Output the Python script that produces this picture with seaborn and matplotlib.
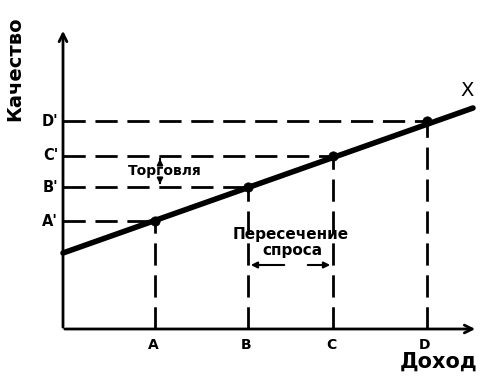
import matplotlib
matplotlib.use("Agg")
import matplotlib.pyplot as plt
import seaborn as sns
import pandas as pd

# data (units roughly pixel-based, origin at axes corner)
income_labels = ["A", "B", "C", "D"]
quality_labels = ["A'", "B'", "C'", "D'"]
income = [92, 185, 270, 364]
quality = [108, 142, 173, 208]
line_x = [0, 410]
line_y = [76, 221]

sns.set_theme(style="white")
plt.rcParams['font.family'] = ['DejaVu Sans']
plt.rcParams['text.color'] = 'black'

fig = plt.figure(figsize=(4.88, 3.83), dpi=100)
ax = fig.add_axes([0, 0, 1, 1])
ax.set_xlim(-63, 425)
ax.set_ylim(-54, 329)
ax.axis("off")

# axes with arrows
ax.annotate("", xy=(0, 301), xytext=(0, -1), arrowprops=dict(arrowstyle="->", lw=2, color="black", mutation_scale=14))
ax.annotate("", xy=(415, 0), xytext=(-1, 0), arrowprops=dict(arrowstyle="->", lw=2, color="black", mutation_scale=14))

dash = (8, 3.5)
for xi, yi in zip(income, quality):
    ax.plot([0, xi], [yi, yi], color="black", lw=2, dashes=dash, dash_capstyle="butt")
    ax.plot([xi, xi], [0, yi], color="black", lw=2, dashes=dash, dash_capstyle="butt")

df_line = pd.DataFrame({"x": line_x, "y": line_y})
sns.lineplot(data=df_line, x="x", y="y", ax=ax, color="black", lw=4, legend=False)
df_pts = pd.DataFrame({"x": income, "y": quality})
sns.scatterplot(data=df_pts, x="x", y="y", ax=ax, color="black", s=45, edgecolor="black", legend=False, zorder=5)

for xi, lab in zip(income, income_labels):
    ax.text(xi - 2, -16, lab, ha="center", va="center", fontsize=10, fontweight="bold", color="black")
for yi, lab in zip(quality, quality_labels):
    ax.text(-5, yi, lab, ha="right", va="center", fontsize=10.5, fontweight="bold", color="black")

ax.text(404, 239, "X", ha="center", va="center", fontsize=14, color="black")
ax.text(376, -33, "Доход", ha="center", va="center", fontsize=15, fontweight="bold", color="black")
ax.text(-48, 260, "Качество", ha="center", va="center", fontsize=14, fontweight="bold", rotation=90, color="black")

# Торговля
ax.text(102, 158, "Торговля", ha="center", va="center", fontsize=10, fontweight="bold", color="black")
ax.annotate("", xy=(97, quality[2]), xytext=(97, 167), arrowprops=dict(arrowstyle="-|>", lw=1.5, color="black", mutation_scale=8), zorder=6)
ax.annotate("", xy=(97, quality[1]), xytext=(97, 149), arrowprops=dict(arrowstyle="-|>", lw=1.5, color="black", mutation_scale=8), zorder=6)

# Пересечение спроса
ax.text(228, 94, "Пересечение", ha="center", va="center", fontsize=11, fontweight="bold", color="black")
ax.text(229, 79, "спроса", ha="center", va="center", fontsize=11, fontweight="bold", color="black")
ax.annotate("", xy=(income[1], 64), xytext=(224, 64), arrowprops=dict(arrowstyle="-|>", lw=1.5, color="black", mutation_scale=9))
ax.annotate("", xy=(income[2], 64), xytext=(242, 64), arrowprops=dict(arrowstyle="-|>", lw=1.5, color="black", mutation_scale=9))

fig.savefig("out.png", dpi=100)
